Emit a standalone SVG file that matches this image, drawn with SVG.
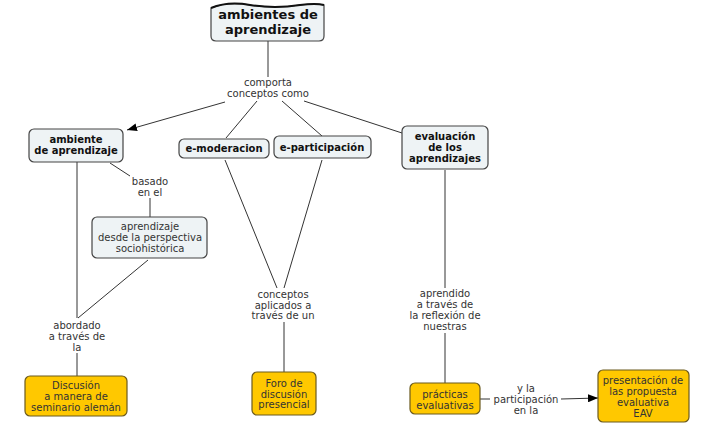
<svg xmlns="http://www.w3.org/2000/svg" width="727" height="432" viewBox="0 0 727 432">
<style>
.n{fill:#eef3f5;stroke:#444;stroke-width:1.2}
.y{fill:#ffc800;stroke:#6b5a1e;stroke-width:1.2}
.b{font-family:"DejaVu Sans",Verdana,sans-serif;font-weight:bold;font-size:10px;fill:#111;text-anchor:middle}
.t{font-family:"DejaVu Sans",Verdana,sans-serif;font-size:10px;fill:#333;text-anchor:middle}
.c line,.c polyline{stroke:#333;stroke-width:1;fill:none}
</style>
<defs>
<marker id="ar" viewBox="0 0 10 8" refX="10" refY="4" markerWidth="10" markerHeight="8" markerUnits="userSpaceOnUse" orient="auto">
<path d="M0,0 L10,4 L0,8 z" fill="#000"/>
</marker>
</defs>
<rect width="727" height="432" fill="#fff"/>
<g class="c" id="connectors">
<line x1="268" y1="41" x2="268" y2="77"/>
<line x1="225" y1="102" x2="127" y2="130" marker-end="url(#ar)"/>
<line x1="257" y1="101" x2="226" y2="138"/>
<line x1="282" y1="101" x2="322" y2="136"/>
<line x1="304" y1="101" x2="402" y2="133"/>
<line x1="110" y1="163" x2="130" y2="176"/>
<line x1="150" y1="198" x2="150" y2="217"/>
<line x1="77" y1="162" x2="77" y2="318"/>
<line x1="148" y1="260" x2="78" y2="318"/>
<line x1="77" y1="353" x2="77" y2="376"/>
<line x1="225" y1="160" x2="277" y2="288"/>
<line x1="322" y1="160" x2="284" y2="288"/>
<line x1="284" y1="322" x2="284" y2="372"/>
<line x1="445" y1="170" x2="445" y2="288"/>
<line x1="445" y1="333" x2="445" y2="383"/>
<line x1="480" y1="399" x2="490" y2="399"/>
<line x1="561" y1="399" x2="598" y2="398" marker-end="url(#ar)"/>
</g>
<g id="root">
<path class="n" d="M211,8 Q228,1 250,5 Q275,9 300,5 Q316,3 324,5 L324,36 Q324,41 319,41 L216,41 Q211,41 211,36 Z"/>
<path d="M211,8 Q228,1 250,5 Q275,9 300,5 Q316,3 324,5" fill="none" stroke="#111" stroke-width="2"/>
<text class="b" style="font-size:13px" x="268" y="19">ambientes de</text>
<text class="b" style="font-size:13px" x="268" y="34">aprendizaje</text>
</g>
<g id="lbl-comporta">
<text class="t" x="268" y="86">comporta</text>
<text class="t" x="268" y="97">conceptos como</text>
</g>
<g id="ambiente">
<rect class="n" x="29" y="129" width="94" height="33" rx="5"/>
<text class="b" x="76" y="143">ambiente</text>
<text class="b" x="76" y="154">de aprendizaje</text>
</g>
<g id="emoderacion">
<rect class="n" x="179" y="139" width="90" height="19" rx="5"/>
<text class="b" x="224" y="152">e-moderacion</text>
</g>
<g id="eparticipacion">
<rect class="n" x="274" y="136" width="97" height="22" rx="5"/>
<text class="b" x="322" y="151">e-participación</text>
</g>
<g id="evaluacion">
<rect class="n" x="402" y="126" width="86" height="43" rx="5"/>
<text class="b" x="445" y="140">evaluación</text>
<text class="b" x="445" y="151">de los</text>
<text class="b" x="445" y="162">aprendizajes</text>
</g>
<g id="lbl-basado">
<text class="t" x="150" y="185">basado</text>
<text class="t" x="150" y="196">en el</text>
</g>
<g id="sociohistorica">
<rect class="n" x="92" y="217" width="115" height="41" rx="5"/>
<text class="t" x="150" y="230">aprendizaje</text>
<text class="t" x="150" y="241">desde la perspectiva</text>
<text class="t" x="150" y="252">sociohistórica</text>
</g>
<g id="lbl-abordado">
<text class="t" x="77" y="329">abordado</text>
<text class="t" x="77" y="340">a través de</text>
<text class="t" x="77" y="351">la</text>
</g>
<g id="discusion">
<rect class="y" x="25" y="376" width="102" height="40" rx="5"/>
<text class="t" x="76" y="389">Discusión</text>
<text class="t" x="76" y="400">a manera de</text>
<text class="t" x="76" y="411">seminario alemán</text>
</g>
<g id="lbl-conceptos">
<text class="t" x="283" y="298">conceptos</text>
<text class="t" x="283" y="309">aplicados a</text>
<text class="t" x="283" y="319">través de un</text>
</g>
<g id="foro">
<rect class="y" x="252" y="372" width="64" height="43" rx="5"/>
<text class="t" x="284" y="387">Foro de</text>
<text class="t" x="284" y="398">discusión</text>
<text class="t" x="284" y="408">presencial</text>
</g>
<g id="lbl-aprendido">
<text class="t" x="445" y="297">aprendido</text>
<text class="t" x="445" y="308">a través de</text>
<text class="t" x="445" y="319">la reflexión de</text>
<text class="t" x="445" y="330">nuestras</text>
</g>
<g id="practicas">
<rect class="y" x="410" y="383" width="70" height="31" rx="5"/>
<text class="t" x="445" y="398">prácticas</text>
<text class="t" x="445" y="409">evaluativas</text>
</g>
<g id="lbl-participacion">
<text class="t" x="526" y="392">y la</text>
<text class="t" x="526" y="403">participación</text>
<text class="t" x="526" y="414">en la</text>
</g>
<g id="presentacion">
<rect class="y" x="598" y="370" width="91" height="52" rx="5"/>
<text class="t" x="643" y="384">presentación de</text>
<text class="t" x="643" y="395">las propuesta</text>
<text class="t" x="643" y="406">evaluativa</text>
<text class="t" x="643" y="417">EAV</text>
</g>
</svg>
